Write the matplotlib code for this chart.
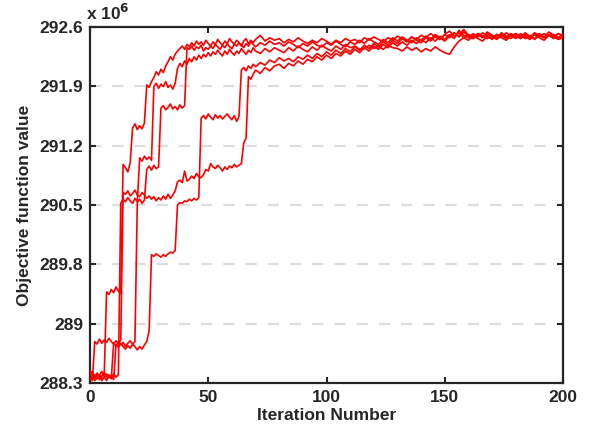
import matplotlib

matplotlib.use("Agg")
import matplotlib.pyplot as plt
import numpy as np

# iterations: every step up to 69, then every second step
iters = list(range(0, 70)) + list(range(70, 201, 2))

# objective values in units of 1e6
run_a = [
    288.42, 288.37, 288.40, 288.35, 288.39, 288.44, 288.38, 289.40, 289.37, 289.43,
    289.39, 289.46, 289.41, 289.38, 290.94, 290.90, 290.85, 290.96, 291.38, 291.43,
    291.36, 291.41, 291.37, 291.44, 291.90, 291.87, 291.94, 291.99, 292.06, 292.02,
    292.09, 292.05, 292.13, 292.18, 292.24, 292.20, 292.27, 292.31, 292.34, 292.37,
    292.33, 292.39, 292.36, 292.41, 292.37, 292.43, 292.39, 292.42, 292.38, 292.44,
    292.40, 292.37, 292.42, 292.39, 292.45, 292.41, 292.38, 292.43, 292.40, 292.46,
    292.42, 292.39, 292.44, 292.41, 292.37, 292.43, 292.46, 292.40, 292.44, 292.41,
    292.45, 292.50, 292.43, 292.47, 292.44, 292.46, 292.41, 292.45, 292.42, 292.47,
    292.43, 292.40, 292.44, 292.41, 292.46, 292.43, 292.39, 292.44, 292.41, 292.46,
    292.43, 292.45, 292.41, 292.47, 292.44, 292.48, 292.45, 292.42, 292.47, 292.44,
    292.49, 292.46, 292.43, 292.48, 292.45, 292.50, 292.47, 292.52, 292.48, 292.45,
    292.51, 292.55, 292.49, 292.53, 292.47, 292.51, 292.48, 292.52, 292.49, 292.46,
    292.50, 292.47, 292.51, 292.48, 292.52, 292.49, 292.46, 292.50, 292.47, 292.51,
    292.48, 292.52, 292.49, 292.51, 292.47, 292.49,
]
run_b = [
    288.36, 288.33, 288.80, 288.77, 288.83, 288.78, 288.82, 288.79, 288.84, 288.80,
    288.77, 288.81, 288.78, 288.82, 290.60, 290.58, 290.62, 290.56, 290.59, 290.63,
    290.57, 290.55, 290.60, 290.57, 290.53, 290.56, 290.52, 290.55, 290.50, 290.54,
    290.51, 290.56, 290.52, 290.58, 290.53, 290.57, 290.62, 290.73, 290.75, 290.72,
    290.86, 290.74, 290.76, 290.80, 290.77, 290.83, 290.79, 290.78, 290.82, 290.88,
    290.86, 290.95, 290.91, 290.89, 290.93, 290.90, 290.86, 290.91, 290.88, 290.92,
    290.90, 290.94, 290.91, 290.93, 290.95, 291.20, 291.26, 292.00, 291.97, 292.03,
    292.08, 292.04, 292.11, 292.07, 292.13, 292.15, 292.10, 292.16, 292.13, 292.19,
    292.15, 292.21, 292.18, 292.24, 292.20, 292.26, 292.22, 292.28, 292.25, 292.31,
    292.27, 292.33, 292.29, 292.35, 292.31, 292.37, 292.33, 292.39, 292.35, 292.41,
    292.37, 292.42, 292.38, 292.44, 292.40, 292.45, 292.41, 292.47, 292.43, 292.49,
    292.45, 292.51, 292.46, 292.56, 292.50, 292.47, 292.52, 292.48, 292.53, 292.49,
    292.46, 292.51, 292.48, 292.53, 292.49, 292.52, 292.47, 292.51, 292.48, 292.53,
    292.50, 292.47, 292.51, 292.48, 292.52, 292.50,
]
run_c = [
    288.39, 288.44, 288.36, 288.41, 288.34, 288.38, 288.43, 288.37, 288.40, 288.35,
    288.78, 288.75, 288.80, 288.76, 288.79, 288.74, 288.78, 288.81, 288.77, 288.80,
    290.48, 290.52, 290.47, 290.51, 290.88, 290.92, 290.87, 290.93, 290.89, 290.91,
    291.62, 291.65, 291.60, 291.63, 291.67, 291.61, 291.64, 291.60, 291.66, 291.62,
    291.65, 292.35, 292.33, 292.37, 292.32, 292.36, 292.34, 292.38, 292.31, 292.35,
    292.33, 292.37, 292.34, 292.39, 292.36, 292.33, 292.38, 292.35, 292.40, 292.36,
    292.34, 292.39, 292.37, 292.41, 292.38, 292.35, 292.40, 292.37, 292.42, 292.39,
    292.36, 292.41, 292.38, 292.43, 292.39, 292.41, 292.37, 292.42, 292.39, 292.35,
    292.40, 292.37, 292.42, 292.38, 292.36, 292.41, 292.38, 292.43, 292.39, 292.36,
    292.42, 292.39, 292.44, 292.40, 292.46, 292.42, 292.39, 292.45, 292.41, 292.47,
    292.43, 292.48, 292.44, 292.41, 292.47, 292.44, 292.49, 292.45, 292.51, 292.47,
    292.43, 292.49, 292.53, 292.48, 292.54, 292.49, 292.46, 292.51, 292.47, 292.52,
    292.48, 292.45, 292.50, 292.46, 292.51, 292.47, 292.50, 292.46, 292.49, 292.45,
    292.50, 292.47, 292.51, 292.48, 292.45, 292.47,
]
run_d = [
    288.34, 288.38, 288.33, 288.36, 288.40, 288.35, 288.37, 288.33, 288.39, 288.36,
    288.41, 288.37, 288.40, 290.47, 290.52, 290.49, 290.54, 290.50, 290.47, 290.53,
    290.49, 291.02, 290.98, 291.04, 291.00, 291.03, 290.99, 291.88, 291.92, 291.86,
    291.91, 291.88, 291.94, 291.87, 291.90, 291.85, 291.92, 292.10, 292.16, 292.12,
    292.19, 292.15, 292.22, 292.18, 292.24, 292.20, 292.26, 292.22, 292.27, 292.24,
    292.29, 292.25, 292.30, 292.27, 292.32, 292.28, 292.25, 292.31, 292.27, 292.33,
    292.29, 292.26, 292.31, 292.28, 292.34, 292.30, 292.27, 292.32, 292.29, 292.35,
    292.31, 292.28, 292.34, 292.30, 292.35, 292.32, 292.29, 292.35, 292.31, 292.37,
    292.33, 292.30, 292.36, 292.32, 292.38, 292.34, 292.31, 292.37, 292.33, 292.39,
    292.35, 292.37, 292.33, 292.34, 292.38, 292.34, 292.37, 292.33, 292.38, 292.35,
    292.34, 292.31, 292.36, 292.32, 292.35, 292.30, 292.34, 292.31, 292.36, 292.32,
    292.29, 292.27, 292.36, 292.43, 292.47, 292.44, 292.50, 292.46, 292.43, 292.49,
    292.45, 292.51, 292.47, 292.44, 292.50, 292.46, 292.52, 292.48, 292.45, 292.51,
    292.47, 292.44, 292.50, 292.46, 292.52, 292.48,
]
run_e = [
    288.45, 288.40, 288.36, 288.42, 288.38, 288.33, 288.37, 288.41, 288.36, 288.39,
    288.34, 288.76, 288.73, 288.78, 288.74, 288.71, 288.75, 288.72, 288.77, 288.74,
    288.70, 288.74, 288.71, 288.76, 288.80, 288.93, 289.85, 289.83, 289.86, 289.84,
    289.82, 289.85, 289.83, 289.86, 289.88, 289.87, 289.90, 290.45, 290.48, 290.47,
    290.50, 290.49, 290.52, 290.50, 290.53, 290.51, 290.54, 291.50, 291.53, 291.49,
    291.55, 291.51, 291.48, 291.54, 291.50, 291.53, 291.49, 291.52, 291.55, 291.51,
    291.48, 291.53, 291.46, 291.52, 292.08, 292.11, 292.07, 292.13, 292.10, 292.15,
    292.12, 292.17, 292.14, 292.20, 292.17, 292.23, 292.19, 292.22, 292.18, 292.24,
    292.21, 292.26, 292.22, 292.28, 292.24, 292.30, 292.26, 292.32, 292.28, 292.34,
    292.30, 292.36, 292.32, 292.38, 292.34, 292.40, 292.36, 292.42, 292.38, 292.44,
    292.40, 292.46, 292.42, 292.48, 292.44, 292.41, 292.47, 292.43, 292.49, 292.45,
    292.51, 292.47, 292.53, 292.49, 292.57, 292.50, 292.46, 292.52, 292.48, 292.54,
    292.50, 292.47, 292.53, 292.49, 292.46, 292.52, 292.48, 292.53, 292.49, 292.46,
    292.52, 292.48, 292.54, 292.50, 292.47, 292.51,
]
runs = [run_a, run_b, run_c, run_d, run_e]

y_tick_labels = ["288.3", "289", "289.8", "290.5", "291.2", "291.9", "292.6"]
x_ticks = [0, 50, 100, 150, 200]

plt.rcParams["font.family"] = ["Liberation Sans", "DejaVu Sans"]
plt.rcParams["font.weight"] = "bold"

fig = plt.figure(figsize=(5.94, 4.4), dpi=100)
ax = fig.add_axes([90 / 594, 57 / 440, 473 / 594, 356 / 440])

y_lo, y_hi = 288.3, 292.6
y_ticks = np.linspace(y_lo, y_hi, len(y_tick_labels))
for y in y_ticks[1:-1]:
    ax.axhline(y, color="#dcdcdc", lw=1.6, ls=(0, (5, 5)), zorder=1)

for run in runs:
    ax.plot(iters, run, color="red", lw=1.2, zorder=3)

ax.set_xlim(0, 200)
ax.set_ylim(y_lo, y_hi)
ax.set_xticks(x_ticks)
ax.set_yticks(y_ticks)
ax.set_yticklabels(y_tick_labels)
ax.tick_params(direction="in", length=4, width=1.5, colors="#262626",
               labelsize=12.5, top=True, right=True, pad=5)
for lab in ax.get_xticklabels() + ax.get_yticklabels():
    lab.set_fontweight("bold")
    lab.set_color("#262626")
for sp in ax.spines.values():
    sp.set_linewidth(1.6)
    sp.set_color("#262626")

ax.set_xlabel("Iteration Number", fontsize=12.5, fontweight="bold", color="#262626", labelpad=2)
ax.set_ylabel("Objective function value", fontsize=12.5, fontweight="bold", color="#262626", labelpad=5)
fig.text(86 / 594, 1 - 13 / 440, r"x 10$^{\mathbf{6}}$", fontsize=12.5, fontweight="bold",
         color="#262626", va="center", ha="left")

fig.savefig("out.png", dpi=100)
